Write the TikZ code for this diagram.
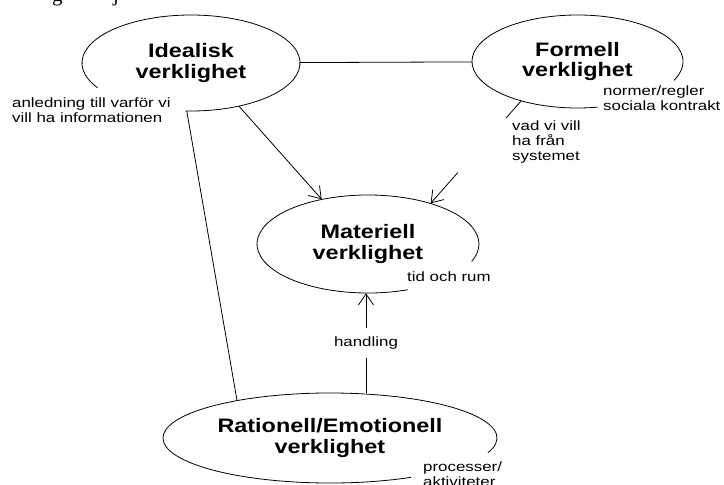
\documentclass[tikz,border=0pt]{standalone}
\usepackage{fontspec}
\setmainfont{Liberation Serif}
\newfontfamily\realmfont{Liberation Sans}[FakeStretch=1.2]
\newfontfamily\notefont{Liberation Sans}[FakeStretch=1.25]
\usetikzlibrary{shapes.geometric,arrows.meta}

% open ellipse outline: node, x radius, y radius, start angle, end angle
\newcommand\realmoutline[5]{%
  \draw[outline] (#1.center) ++(#4:#2 and #3)
    arc[start angle=#4, end angle=#5, x radius=#2, y radius=#3];}

\tikzset{
  outline/.style={line width=0.8pt, black},
  realm/.style 2 args={ellipse, draw=none, inner sep=0pt,
    minimum width=#1pt, minimum height=#2pt, align=center,
    font=\realmfont\bfseries\fontsize{19.5}{20.5}\selectfont},
  note/.style={inner sep=0pt, anchor=west, align=left,
    font=\notefont\fontsize{13.5}{15}\selectfont},
  link/.style={line width=0.8pt, black},
  flow/.style={link, -{Straight Barb[length=11pt, width=15pt]}},
  runtext/.style={anchor=base west, inner sep=0pt, font=\fontsize{21}{21}\selectfont},
}

\begin{document}
\begin{tikzpicture}[x=1pt, y=-1pt]
\useasboundingbox (0,0) rectangle (724,485);

% descenders of the running text above the figure
\begin{scope}
  \clip (0,0) rectangle (724,485);
  \node[runtext] (runG) at (52,1) {g};
  \node[runtext] (runJ) at (113,1) {j};
\end{scope}

% the four realms
\node[realm={218}{96}] (ideal) at (191,63) {Idealisk\\verklighet};
\node[realm={211}{93}] (form)  at (577.5,61.5) {Formell\\verklighet};
\node[realm={222}{98}] (mat)   at (368,244) {Materiell\\verklighet};
\node[realm={334}{90}] (rat)   at (330,438) {Rationell/Emotionell\\verklighet};

% outlines, each left open where its note sits
\realmoutline{ideal}{109}{48}{149}{453}
\realmoutline{form}{105.5}{46.5}{79}{384}
\realmoutline{mat}{111}{49}{69}{381}
\realmoutline{rat}{167}{45}{61}{379}

% notes at the open part of each outline
\node[note] (whyNote) at (12,110.5) {anledning till varför vi\\vill ha informationen};
\node[note] (normNote) at (603,98) {normer/regler\\sociala kontrakt};
\node[note] (timeNote) at (407,277) {tid och rum};
\node[note] (procNote) at (423,474.5) {processer/\\aktiviteter};

% connectors
\draw[link] (ideal) -- (form);
\draw[link] (ideal.265) -- (rat.158);
\draw[flow] (ideal.318) -- (mat.136);

\path (form.215) -- coordinate[pos=0.165] (wantA) coordinate[pos=0.70] (wantB) (mat.33);
\draw[link] (form.215) -- (wantA);
\draw[flow] (wantB) -- (mat.33);
\node[note, anchor=west] (wantNote) at (512,142) {vad vi vill\\ha från\\systemet};

\coordinate (actX) at (366,0);
\draw[flow] (rat.north -| actX) -- node[fill=white, inner xsep=2pt, inner ysep=9pt,
  font=\notefont\fontsize{13.5}{15}\selectfont] (actNote) {handling} (mat.south -| actX);
\end{tikzpicture}
\end{document}
